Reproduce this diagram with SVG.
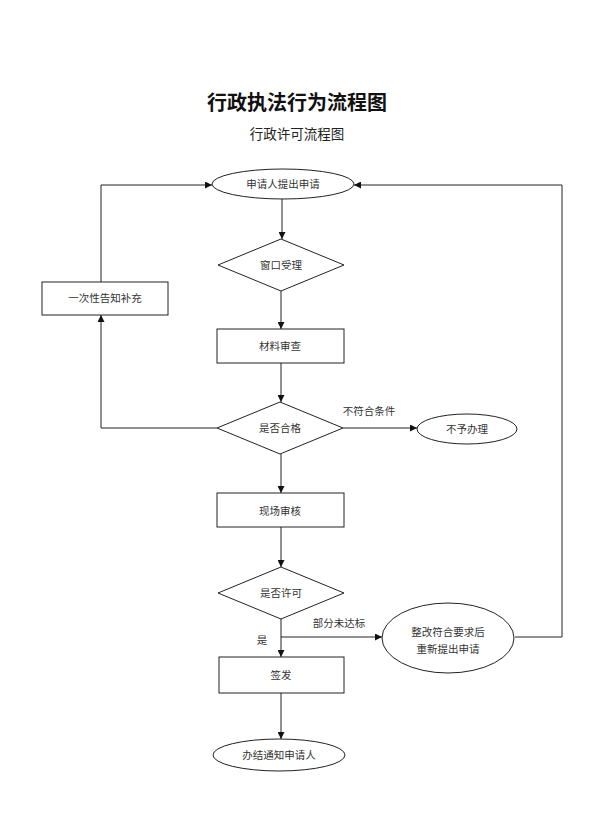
<svg xmlns="http://www.w3.org/2000/svg" width="592" height="837" viewBox="0 0 592 837">
<defs>
<marker id="ah" viewBox="0 0 10 10" refX="10" refY="5" markerWidth="7" markerHeight="7" markerUnits="userSpaceOnUse" orient="auto">
<path d="M0,0 L10,5 L0,10 z" fill="#111"/>
</marker>
<style>
.s{fill:#fff;stroke:#222;stroke-width:1}
.c{fill:none;stroke:#222;stroke-width:1;marker-end:url(#ah)}
.l{fill:none;stroke:#222;stroke-width:1}
.t{font-family:"Noto Sans CJK SC","Liberation Serif",serif;font-size:10.5px;fill:#333;text-anchor:middle}
</style>
</defs>
<rect width="592" height="837" fill="#fff"/>
<text x="297" y="110" style="font-family:'Noto Sans CJK SC',sans-serif;font-size:20px;font-weight:bold;fill:#111;text-anchor:middle">行政执法行为流程图</text>
<text x="297" y="139" style="font-family:'Noto Sans CJK SC',sans-serif;font-size:13.5px;fill:#222;text-anchor:middle">行政许可流程图</text>

<g id="connectors">
<path class="c" d="M282,199 V239"/>
<path class="c" d="M281,291 V329"/>
<path class="c" d="M281,363 V402"/>
<path class="c" d="M343,428 H417"/>
<path class="c" d="M217,428 H101 V315"/>
<path class="c" d="M101,282 V185 H212"/>
<path class="c" d="M281,454 V493"/>
<path class="c" d="M281,527 V567"/>
<path class="c" d="M281,618 V657"/>
<path class="c" d="M281,637 H382"/>
<path class="c" d="M515,637 H562 V185 H354"/>
<path class="c" d="M281,693 V739"/>
<text class="t" x="369" y="415">不符合条件</text>
<text class="t" x="339" y="627">部分未达标</text>
<text class="t" x="262" y="644">是</text>
</g>

<g id="n1"><ellipse class="s" cx="283" cy="184" rx="71" ry="15"/><text class="t" x="283" y="188">申请人提出申请</text></g>
<g id="n2"><polygon class="s" points="281,239 344,265 281,291 218,265"/><text class="t" x="281" y="269">窗口受理</text></g>
<g id="n3"><rect class="s" x="42" y="282" width="126" height="33"/><text class="t" x="105" y="302">一次性告知补充</text></g>
<g id="n4"><rect class="s" x="217" y="329" width="127" height="34"/><text class="t" x="280" y="350">材料审查</text></g>
<g id="n5"><polygon class="s" points="280,402 343,428 280,454 217,428"/><text class="t" x="280" y="432">是否合格</text></g>
<g id="n6"><ellipse class="s" cx="467" cy="429" rx="50" ry="15"/><text class="t" x="467" y="433">不予办理</text></g>
<g id="n7"><rect class="s" x="217" y="493" width="127" height="34"/><text class="t" x="280" y="515">现场审核</text></g>
<g id="n8"><polygon class="s" points="281,567 344,593 281,619 218,593"/><text class="t" x="281" y="597">是否许可</text></g>
<g id="n9"><ellipse class="s" cx="448" cy="638" rx="66" ry="35"/><text class="t" x="448" y="636">整改符合要求后</text><text class="t" x="448" y="653">重新提出申请</text></g>
<g id="n10"><rect class="s" x="219" y="657" width="125" height="36"/><text class="t" x="281" y="679">签发</text></g>
<g id="n11"><ellipse class="s" cx="279" cy="755" rx="66" ry="16"/><text class="t" x="279" y="759">办结通知申请人</text></g>
</svg>
